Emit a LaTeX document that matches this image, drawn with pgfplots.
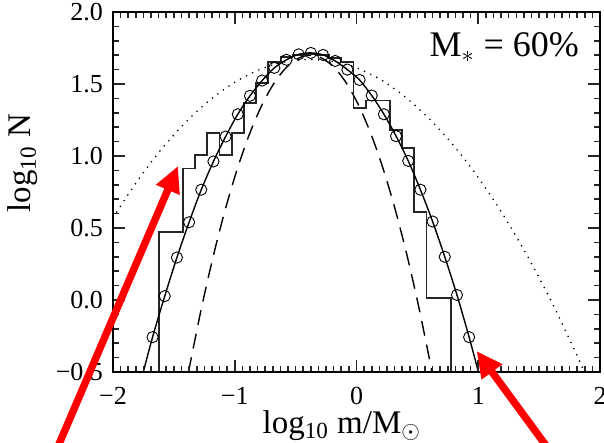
\documentclass[border=0pt]{standalone}
\usepackage{fontspec}
\setmainfont{Liberation Serif}
\usepackage{pgfplots}
\usepackage{pgfplotstable}
\pgfplotsset{compat=1.18}
\usetikzlibrary{arrows.meta}

% histogram: left bin edge, height
\pgfplotstableread{
x y
-1.625 -0.5
-1.625 0.474
-1.425 0.913
-1.325 1.007
-1.225 1.157
-1.125 1.007
-1.025 1.157
-0.925 1.366
-0.825 1.505
-0.725 1.655
-0.625 1.690
-0.525 1.700
-0.425 1.710
-0.325 1.700
-0.225 1.680
-0.125 1.655
-0.025 1.336
0.075 1.385
0.275 1.180
0.375 1.053
0.475 0.613
0.575 0.012
0.775 -0.5
}\histo

% model at bin centres (circles)
\pgfplotstableread{
x y
-1.675 -0.258
-1.575 0.027
-1.475 0.295
-1.375 0.540
-1.275 0.766
-1.175 0.962
-1.075 1.135
-0.975 1.290
-0.875 1.418
-0.775 1.524
-0.675 1.612
-0.575 1.668
-0.475 1.706
-0.375 1.716
-0.275 1.702
-0.175 1.660
-0.075 1.600
0.025 1.528
0.125 1.420
0.225 1.290
0.325 1.138
0.425 0.966
0.525 0.766
0.625 0.545
0.725 0.300
0.825 0.035
0.925 -0.258
}\model

\pgfplotstableread{
x y
-1.751 -0.5
-1.675 -0.258
-1.575 0.027
-1.475 0.295
-1.375 0.540
-1.275 0.766
-1.175 0.962
-1.075 1.135
-0.975 1.290
-0.875 1.418
-0.775 1.524
-0.675 1.612
-0.575 1.668
-0.475 1.706
-0.375 1.716
-0.275 1.702
-0.175 1.660
-0.075 1.600
0.025 1.528
0.125 1.420
0.225 1.290
0.325 1.138
0.425 0.966
0.525 0.766
0.625 0.545
0.725 0.300
0.825 0.035
0.925 -0.258
1.001 -0.5
}\modelline

\pgfplotstableread{
x y
-1.38 -0.5
-1.28 -0.082
-1.18 0.292
-1.08 0.622
-0.98 0.908
-0.88 1.150
-0.78 1.348
-0.68 1.502
-0.58 1.612
-0.48 1.678
-0.38 1.700
-0.28 1.678
-0.18 1.612
-0.08 1.502
0.02 1.348
0.12 1.150
0.22 0.908
0.32 0.622
0.42 0.292
0.52 -0.082
0.62 -0.5
}\narrow

\pgfplotstableread{
x y
-2.0 0.571
-1.8 0.827
-1.6 1.049
-1.4 1.237
-1.2 1.392
-1.0 1.512
-0.8 1.599
-0.6 1.651
-0.4 1.670
-0.2 1.657
0.0 1.612
0.2 1.530
0.4 1.410
0.6 1.256
0.8 1.070
1.0 0.851
1.2 0.598
1.4 0.311
1.6 -0.009
1.8 -0.364
1.872 -0.5
}\wide

\begin{document}
\begin{tikzpicture}
\begin{axis}[
  scale only axis,
  width=243.5pt, height=180pt,
  xmin=-2, xmax=2, ymin=-0.5, ymax=2,
  xtick={-2,-1,0,1,2},
  xticklabels={−2,−1,0,1,2},
  ytick={-0.5,0,0.5,1,1.5,2},
  yticklabels={−0.5,0.0,0.5,1.0,1.5,2.0},
  minor x tick num=15, minor y tick num=4,
  axis on top,
  tick align=inside,
  major tick length=6pt, minor tick length=3pt,
  axis line style={line width=0.8pt},
  tick style={black!85, line width=0.8pt},
  tick label style={font=\fontsize{13}{15}\selectfont},
  xticklabel style={yshift=-4pt},
  yticklabel style={xshift=-1.5pt},
  xlabel={log\textsubscript{10} m/M$_\odot$},
  ylabel={log\textsubscript{10} N},
  label style={font=\fontsize{16.5}{18}\selectfont},
  xlabel style={at={(axis description cs:0.47,-0.17)}, anchor=base},
  ylabel style={at={(axis description cs:-0.185,0.58)}, anchor=center},
  clip=false,
]
\coordinate (sw) at (rel axis cs:0,0);
\addplot [black, line width=0.9pt, line cap=round, dash pattern=on 0pt off 3.4pt, smooth] table {\wide};
\addplot [black, line width=0.7pt, dash pattern=on 7.5pt off 4.5pt, smooth] table {\narrow};
\addplot [black!85, line width=0.9pt, const plot mark left] table {\histo};
\addplot [black, line width=0.7pt, smooth] table {\modelline};
\addplot [only marks, mark=o, mark size=2.8pt, mark options={black, line width=0.45pt}] table {\model};
\node [anchor=base west, font=\fontsize{18}{20}\selectfont] at (axis cs:0.542,1.6875) {M$_{*}$ = 60\%};
\end{axis}
\draw [red, line width=3.7pt, -{Triangle[length=13pt,width=12pt]}] ([shift={(-30.4pt,-44pt)}]sw) -- ([shift={(32.5pt,103pt)}]sw);
\draw [red, line width=3.7pt, -{Triangle[length=13pt,width=12pt]}] ([shift={(221.8pt,-44pt)}]sw) -- ([shift={(181.8pt,10.5pt)}]sw);
\pgfresetboundingbox
\path ([shift={(-56.5pt,-35.5pt)}]sw) rectangle ([shift={(245.5pt,186pt)}]sw);
\end{tikzpicture}
\end{document}
